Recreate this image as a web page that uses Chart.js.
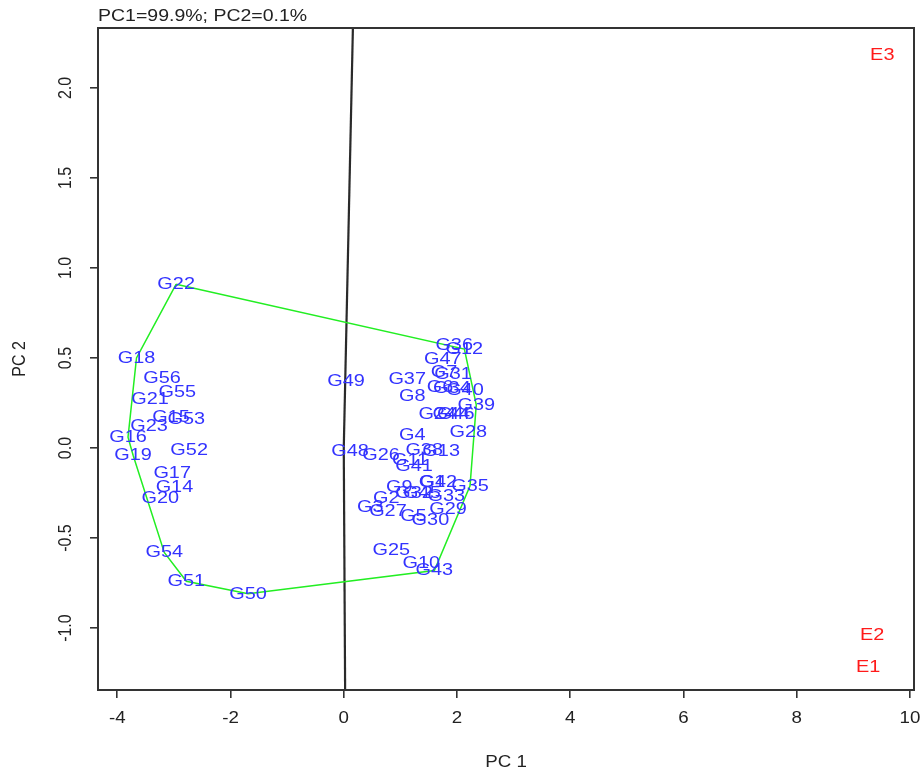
<!DOCTYPE html>
<html>
<head>
<meta charset="utf-8">
<script src="https://cdn.jsdelivr.net/npm/chart.js@4.4.1/dist/chart.umd.min.js"></script>
<style>
  html, body { margin: 0; padding: 0; background: #fff; }
  #wrap { width: 924px; height: 774px; }
</style>
</head>
<body>
<div id="wrap"><canvas id="biplot"></canvas></div>
<script>
// genotype scores
var genotypes = ["G1","G2","G3","G4","G5","G6","G7","G8","G9","G10","G11","G12","G13","G14","G15","G16","G17","G18","G19","G20",
  "G21","G22","G23","G24","G25","G26","G27","G28","G29","G30","G31","G32","G33","G34","G35","G36","G37","G38","G39","G40",
  "G41","G42","G43","G44","G45","G46","G47","G48","G49","G50","G51","G52","G53","G54","G55","G56"];
var genoPC1 = [1.56,0.75,0.47,1.21,1.23,1.70,1.77,1.21,0.98,1.37,1.17,2.13,1.72,-2.99,-3.05,-3.81,-3.03,-3.66,-3.72,-3.24,
  -3.42,-2.96,-3.44,1.65,0.84,0.66,0.78,2.20,1.84,1.53,1.93,1.24,1.81,1.91,2.23,1.95,1.12,1.42,2.34,2.14,
  1.24,1.67,1.60,1.90,1.38,1.98,1.75,0.11,0.04,-1.69,-2.78,-2.73,-2.78,-3.17,-2.94,-3.21];
var genoPC2 = [-0.19,-0.28,-0.33,0.07,-0.38,0.34,0.42,0.29,-0.22,-0.64,-0.07,0.55,-0.02,-0.22,0.17,0.06,-0.14,0.50,-0.04,-0.28,
  0.27,0.91,0.12,0.19,-0.57,-0.04,-0.35,0.09,-0.34,-0.40,0.41,-0.25,-0.27,0.33,-0.21,0.57,0.38,-0.01,0.24,0.32,
  -0.10,-0.19,-0.68,0.19,-0.25,0.19,0.49,-0.02,0.37,-0.81,-0.74,-0.01,0.16,-0.58,0.31,0.39];

// environment scores
var envs = ["E1","E2","E3"];
var envPC1 = [9.26, 9.33, 9.51];
var envPC2 = [-1.22, -1.04, 2.18];

// polygon vertices (which-won-where hull)
var hull = ["G22","G12","G39","G35","G43","G50","G51","G54","G19","G16","G18"];

// sector lines from origin
var sectorPC1 = [0.166, 0.025];
var sectorPC2 = [2.40, -1.40];

var xTicks = [-4, -2, 0, 2, 4, 6, 8, 10];
var yTicks = [-1.0, -0.5, 0.0, 0.5, 1.0, 1.5, 2.0];
var title = "PC1=99.9%; PC2=0.1%";

var FONT = "17px 'Liberation Sans', Arial, sans-serif";
var STRETCH = 1.17;

function pts(xs, ys) {
    var out = [];
    for (var i = 0; i < xs.length; i++) out.push({ x: xs[i], y: ys[i] });
    return out;
}

var hullPts = hull.map(function (g) {
    var i = genotypes.indexOf(g);
    return { x: genoPC1[i], y: genoPC2[i] };
});
hullPts.push(hullPts[0]);

var datasets = [
    { data: hullPts, showLine: true, borderColor: "#22ee22", borderWidth: 1.5, pointRadius: 0, fill: false }
];
for (var k = 0; k < sectorPC1.length; k++) {
    datasets.push({ data: [{ x: 0, y: 0 }, { x: sectorPC1[k], y: sectorPC2[k] }], showLine: true,
        borderColor: "#2a2a2a", borderWidth: 2.2, pointRadius: 0 });
}
datasets.push({ data: pts(genoPC1, genoPC2), pointRadius: 0, labelsList: genotypes, labelColor: "#3333ff" });
datasets.push({ data: pts(envPC1, envPC2), pointRadius: 0, labelsList: envs, labelColor: "#ff1a1a" });

function drawText(ctx, txt, x, y, rotate) {
    ctx.save();
    ctx.translate(x, y);
    ctx.scale(STRETCH, 1);
    if (rotate) ctx.rotate(-Math.PI / 2);
    ctx.fillText(txt, 0, 0);
    ctx.restore();
}

var textPlugin = {
    id: "rtext",
    afterDatasetsDraw: function (chart) {
        var ctx = chart.ctx, area = chart.chartArea;
        var xs = chart.scales.x, ys = chart.scales.y;
        ctx.save();
        // box
        ctx.strokeStyle = "#333";
        ctx.lineWidth = 2;
        ctx.strokeRect(area.left, area.top, area.right - area.left, area.bottom - area.top);

        ctx.font = FONT;
        ctx.textAlign = "center";
        ctx.textBaseline = "middle";
        // point labels
        chart.data.datasets.forEach(function (ds, di) {
            if (!ds.labelsList) return;
            var meta = chart.getDatasetMeta(di);
            ctx.fillStyle = ds.labelColor;
            meta.data.forEach(function (el, i) {
                drawText(ctx, ds.labelsList[i], el.x, el.y, false);
            });
        });
        // axis labels
        ctx.fillStyle = "#222";
        ctx.font = "16px 'Liberation Sans', Arial, sans-serif";
        xTicks.forEach(function (v) {
            drawText(ctx, String(v), xs.getPixelForValue(v), 719, false);
        });
        yTicks.forEach(function (v) {
            drawText(ctx, v.toFixed(1), 66, ys.getPixelForValue(v), true);
        });
        drawText(ctx, "PC 1", (area.left + area.right) / 2, 763, false);
        drawText(ctx, "PC 2", 20, (area.top + area.bottom) / 2, true);
        ctx.font = FONT;
        ctx.textAlign = "left";
        ctx.save();
        ctx.translate(area.left, 16);
        ctx.scale(STRETCH * 0.98, 1);
        ctx.fillText(title, 0, 0);
        ctx.restore();
        ctx.restore();
    }
};

var chartCanvas = document.getElementById("biplot").getContext("2d");
var myChart = new Chart(chartCanvas, {
    type: "scatter",
    data: { datasets: datasets },
    options: {
        responsive: true,
        maintainAspectRatio: false,
        animation: false,
        events: [],
        layout: { padding: { top: 28, right: 10, left: 0, bottom: 0 } },
        plugins: { legend: { display: false }, tooltip: { enabled: false } },
        scales: {
            x: {
                type: "linear", min: -4.34, max: 10.07,
                afterBuildTicks: function (s) { s.ticks = xTicks.map(function (v) { return { value: v }; }); },
                afterFit: function (s) { s.height = 84; },
                ticks: { display: false },
                grid: { display: true, drawOnChartArea: false, drawTicks: true, tickLength: 8, color: "#333", lineWidth: 1.6 },
                border: { display: true, color: "#333", width: 2 }
            },
            y: {
                type: "linear", min: -1.344, max: 2.333,
                afterBuildTicks: function (s) { s.ticks = yTicks.map(function (v) { return { value: v }; }); },
                afterFit: function (s) { s.width = 98; },
                ticks: { display: false },
                grid: { display: true, drawOnChartArea: false, drawTicks: true, tickLength: 8, color: "#333", lineWidth: 1.6 },
                border: { display: true, color: "#333", width: 2 }
            }
        }
    },
    plugins: [textPlugin]
});
</script>
</body>
</html>
